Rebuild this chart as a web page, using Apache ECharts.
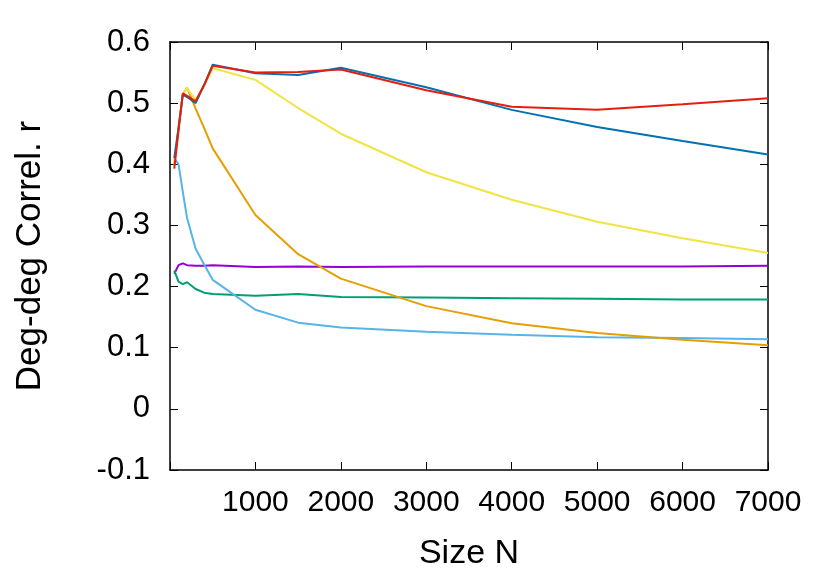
<!DOCTYPE html>
<html>
<head>
<meta charset="utf-8">
<script src="https://cdn.jsdelivr.net/npm/echarts@6/dist/echarts.min.js"></script>
<style>
html,body{margin:0;padding:0;background:#fff;}
#main{width:830px;height:581px;}
</style>
</head>
<body>
<div id="main"></div>
<script>
// network sizes N
var sizes=[50,100,150,200,300,400,500,1000,1500,2000,3000,4000,5000,6000,7000];
// deg-deg correlation r for each series
var purpleVals=[0.221,0.235,0.238,0.235,0.234,0.234,0.235,0.232,0.233,0.232,0.233,0.233,0.233,0.233,0.234];
var greenVals=[0.226,0.208,0.204,0.207,0.196,0.190,0.188,0.185,0.188,0.183,0.182,0.181,0.180,0.179,0.179];
var lightBlueVals=[0.410,0.400,0.355,0.312,0.262,0.236,0.211,0.162,0.141,0.133,0.126,0.121,0.117,0.116,0.114];
var orangeVals=[0.400,0.460,0.515,0.525,0.491,0.459,0.426,0.317,0.253,0.213,0.168,0.140,0.124,0.113,0.104];
var yellowVals=[0.400,0.460,0.515,0.524,0.505,0.528,0.557,0.538,0.492,0.450,0.387,0.342,0.306,0.279,0.255];
var blueVals=[0.410,0.460,0.514,0.510,0.500,0.530,0.563,0.549,0.546,0.558,0.526,0.489,0.461,0.438,0.416];
var redVals=[0.393,0.455,0.516,0.512,0.503,0.530,0.561,0.550,0.551,0.555,0.521,0.494,0.489,0.498,0.508];
var xTicks=[1000,2000,3000,4000,5000,6000,7000];

var lineList=[
    {vals:purpleVals,color:"#9400d3"},
    {vals:greenVals,color:"#009e73"},
    {vals:lightBlueVals,color:"#56b4e9"},
    {vals:orangeVals,color:"#e69f00"},
    {vals:yellowVals,color:"#f0e442"},
    {vals:blueVals,color:"#0072b2"},
    {vals:redVals,color:"#e51e10"}
];

function pairs(vals){
    var out=[];
    for(var i=0;i<sizes.length;i++){
        out.push([sizes[i],vals[i]]);
    }
    return out;
}

var series=[];
for(var k=0;k<lineList.length;k++){
    series.push({
        type:"line",
        data:pairs(lineList[k].vals),
        symbol:"none",
        xAxisIndex:0,
        yAxisIndex:0,
        lineStyle:{color:lineList[k].color,width:2},
        itemStyle:{color:lineList[k].color}
    });
}

var fontName="Liberation Sans";
var tickStyle={show:true,inside:true,length:8,lineStyle:{color:"#000",width:1}};
var axisLineStyle={show:true,onZero:false,lineStyle:{color:"#000",width:1.5}};

var myChart=echarts.init(document.getElementById("main"),null,{renderer:"canvas"});
var option={
    animation:false,
    backgroundColor:"#fff",
    grid:{left:170,right:62,top:42,bottom:111,containLabel:false},
    xAxis:[{
        type:"value",
        min:0,
        max:7000,
        interval:1000,
        position:"bottom",
        name:"Size N",
        nameLocation:"middle",
        nameGap:67,
        nameTextStyle:{fontFamily:fontName,fontSize:34,color:"#000"},
        axisLine:axisLineStyle,
        axisTick:tickStyle,
        splitLine:{show:false},
        axisLabel:{
            fontFamily:fontName,fontSize:30,color:"#000",margin:18,
            formatter:function(v){return xTicks.indexOf(v)>=0?String(v):"";}
        }
    },{
        type:"value",
        min:0,
        max:7000,
        interval:1000,
        position:"top",
        axisLine:axisLineStyle,
        axisTick:tickStyle,
        splitLine:{show:false},
        axisLabel:{show:false}
    }],
    yAxis:[{
        type:"value",
        min:-0.1,
        max:0.6,
        interval:0.1,
        position:"left",
        name:"Deg-deg Correl. r",
        nameLocation:"middle",
        nameGap:122,
        nameRotate:90,
        nameTextStyle:{fontFamily:fontName,fontSize:35,color:"#000"},
        axisLine:axisLineStyle,
        axisTick:tickStyle,
        splitLine:{show:false},
        axisLabel:{
            fontFamily:fontName,fontSize:31,color:"#000",margin:20,
            formatter:function(v){return String(Math.round(v*10)/10);}
        }
    },{
        type:"value",
        min:-0.1,
        max:0.6,
        interval:0.1,
        position:"right",
        axisLine:axisLineStyle,
        axisTick:tickStyle,
        splitLine:{show:false},
        axisLabel:{show:false}
    }],
    series:series
};
myChart.setOption(option);
</script>
</body>
</html>
